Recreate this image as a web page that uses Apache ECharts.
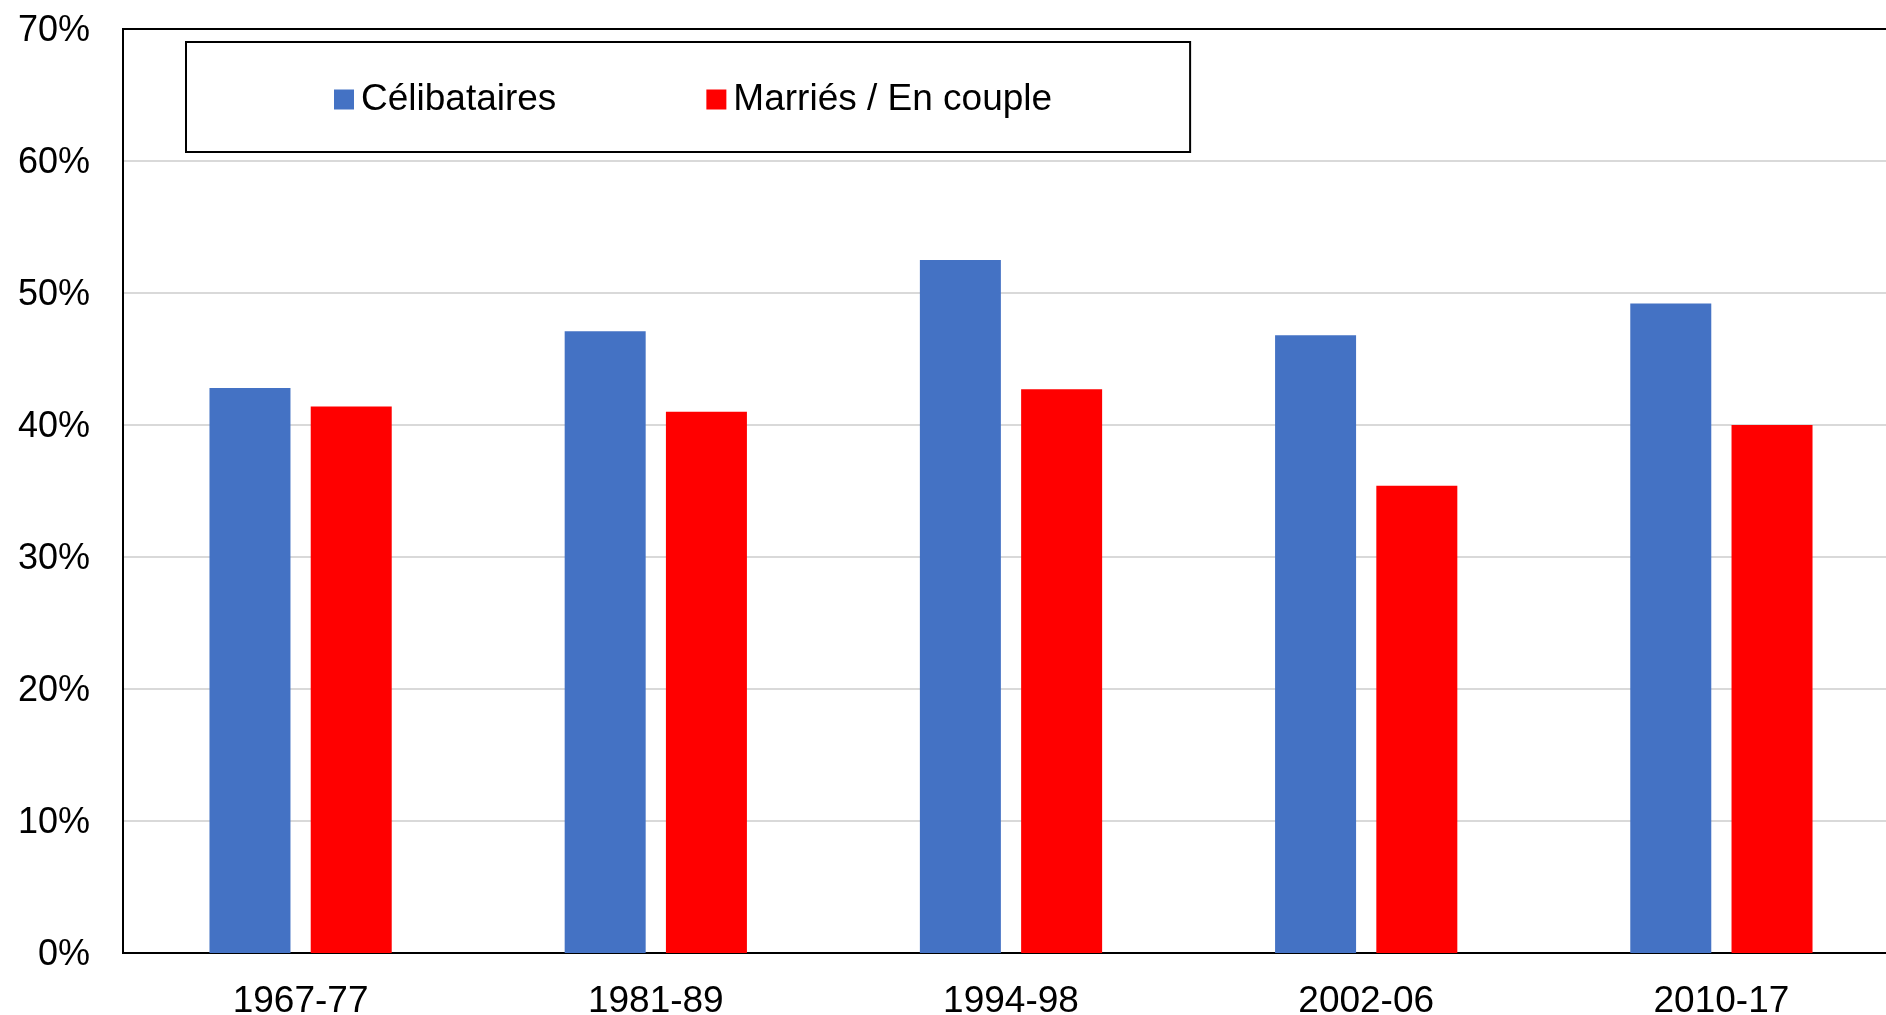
<!DOCTYPE html>
<html>
<head>
<meta charset="utf-8">
<script src="https://cdn.jsdelivr.net/npm/echarts@6/dist/echarts.min.js"></script>
<style>
html,body{margin:0;padding:0;background:#fff;}
#chart{width:1886px;height:1015px;}
</style>
</head>
<body>
<div id="chart"></div>
<script>
const categories = ['1967-77', '1981-89', '1994-98', '2002-06', '2010-17'];
const celibataires = [42.8, 47.1, 52.5, 46.8, 49.2];
const maries = [41.4, 41.0, 42.7, 35.4, 40.0];
const seriesNames = ['Célibataires', 'Marriés / En couple'];
const yTicks = { min: 0, max: 70, interval: 10 };

const FONT = "'Liberation Sans', Arial, sans-serif";
const chart = echarts.init(document.getElementById('chart'), null, { renderer: 'canvas' });
chart.setOption({
  animation: false,
  backgroundColor: '#ffffff',
  textStyle: { fontFamily: FONT },
  legend: {
    left: 186,
    top: 42,
    padding: [39, 138, 34, 148],
    borderColor: '#000000',
    borderWidth: 2,
    icon: 'rect',
    itemWidth: 20,
    itemHeight: 20,
    itemGap: 150,
    textStyle: { fontSize: 37, color: '#000000', fontFamily: FONT, padding: [0, 0, 0, 2] },
    data: seriesNames
  },
  grid: {
    left: 123,
    top: 29,
    bottom: 62,
    right: -13,
    outerBoundsMode: 'none',
    show: true,
    borderColor: '#000000',
    borderWidth: 2,
    containLabel: false
  },
  xAxis: [
    {
      type: 'category',
      data: categories,
      boundaryGap: true,
      axisLine: { show: true, lineStyle: { color: '#000000', width: 2 } },
      axisTick: { show: false },
      axisLabel: { fontSize: 37, color: '#000000', margin: 30, fontFamily: FONT }
    },
    {
      type: 'category',
      data: categories,
      position: 'top',
      boundaryGap: true,
      axisLine: { show: true, onZero: false, lineStyle: { color: '#000000', width: 2 } },
      axisTick: { show: false },
      axisLabel: { show: false },
      splitLine: { show: false },
      z: 10
    }
  ],
  yAxis: {
    type: 'value',
    min: yTicks.min,
    max: yTicks.max,
    interval: yTicks.interval,
    axisLine: { show: true, lineStyle: { color: '#000000', width: 2 } },
    axisTick: { show: false },
    splitLine: { show: true, lineStyle: { color: '#d9d9d9', width: 2 } },
    axisLabel: {
      margin: 33,
      formatter: '{v|{value}%}',
      rich: { v: { fontSize: 36, color: '#000000', fontFamily: FONT, padding: [5, 0, 0, 0] } }
    }
  },
  series: [
    {
      name: seriesNames[0],
      type: 'bar',
      data: celibataires,
      barWidth: 81,
      barGap: '25%',
      itemStyle: { color: '#4472C4' }
    },
    {
      name: seriesNames[1],
      type: 'bar',
      data: maries,
      barWidth: 81,
      barGap: '25%',
      itemStyle: { color: '#FF0000' }
    }
  ]
});
</script>
</body>
</html>
